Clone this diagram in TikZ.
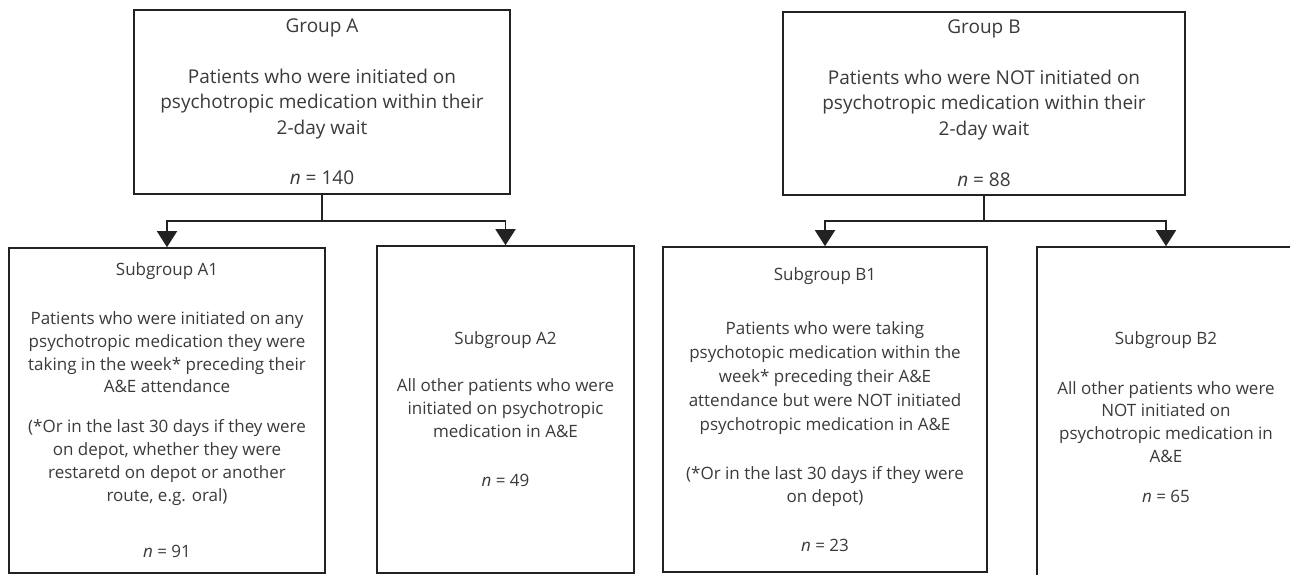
\documentclass[tikz,border=0pt]{standalone}
\usepackage{fontspec}
\setmainfont{Open Sans}
\usetikzlibrary{arrows.meta}
\definecolor{ln}{HTML}{222222}
\definecolor{tx}{HTML}{3A3A3A}
\tikzset{
 box/.style={draw=ln, line width=1.6pt, rectangle, inner sep=0pt, align=center, text=tx},
 grp/.style={box, font=\fontsize{19}{25.5}\selectfont},
 sub/.style={box, font=\fontsize{17}{22.8}\selectfont},
 arr/.style={draw=ln, line width=1.6pt, -{Triangle[width=20pt,length=16pt]}}
}
\begin{document}
\begin{tikzpicture}[x=1pt,y=-1pt]
\useasboundingbox (0,0) rectangle (1290,575);
\node[grp, minimum width=376pt, minimum height=184pt] (gA) at (322,102)
 {Group A\\[25pt] Patients who were initiated on\\ psychotropic medication within their\\ 2-day wait\\[25pt] \textit{n} = 140};
\node[grp, minimum width=402pt, minimum height=183pt] (gB) at (984,103.5)
 {Group B\\[25pt] Patients who were NOT initiated on\\ psychotropic medication within their\\ 2-day wait\\[26pt] \textit{n} = 88};
\node[sub, minimum width=316pt, minimum height=325pt] (a1) at (167,410.5)
 {Subgroup A1\\[26pt] Patients who were initiated on any\\ psychotropic medication they were\\ taking in the week* preceding their\\ A\&E attendance\\[17pt] (*Or in the last 30 days if they were\\ on depot, whether they were\\ restaretd on depot or another\\ route, e.g. oral)\\[34pt] \textit{n} = 91};
\node[sub, minimum width=257pt, minimum height=327pt] (a2) at (505.5,409.5)
 {Subgroup A2\\[24pt] All other patients who were\\ initiated on psychotropic\\ medication in A\&E\\[27pt] \textit{n} = 49};
\node[sub, minimum width=324pt, minimum height=325pt] (b1) at (825,409.5)
 {Subgroup B1\\[32pt] Patients who were taking\\[1pt] psychotopic medication within the\\[1pt] week* preceding their A\&E\\[1pt] attendance but were NOT initiated\\[1pt] psychotropic medication in A\&E\\[27pt] (*Or in the last 30 days if they were\\ on depot)\\[26pt] \textit{n} = 23};
\node[sub, minimum width=258pt, minimum height=340pt] (b2) at (1166,417)
 {Subgroup B2\\[27pt] All other patients who were\\ NOT initiated on\\ psychotropic medication in\\ A\&E\\[17pt] \textit{n} = 65};
\draw[arr] (gA.south) -- ++(0,26) -| (a1.north);
\draw[arr] (gA.south) -- ++(0,26) -| (a2.north);
\draw[arr] (gB.south) -- ++(0,25) -| (b1.north);
\draw[arr] (gB.south) -- ++(0,25) -| (b2.north);
\end{tikzpicture}
\end{document}
